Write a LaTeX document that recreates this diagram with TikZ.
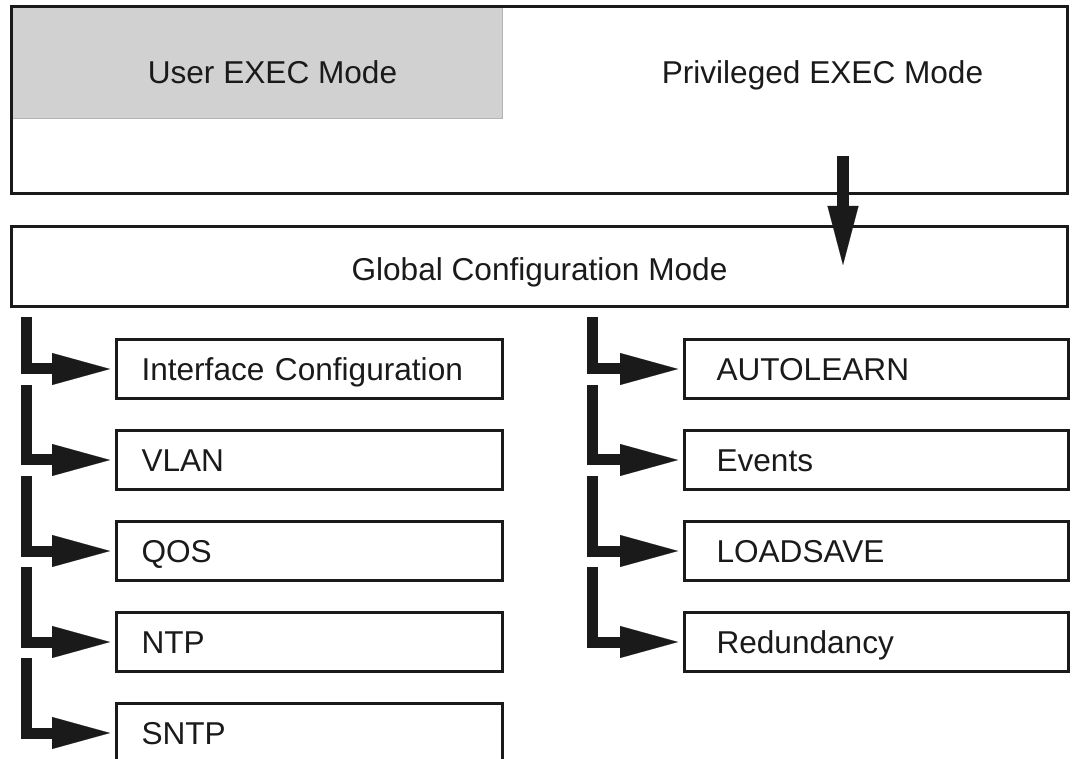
\documentclass[tikz,border=0pt]{standalone}
\usepackage{fontspec}
\setmainfont{Liberation Sans}
\usetikzlibrary{arrows.meta}
\definecolor{ink}{HTML}{1A1A1A}
\definecolor{graybox}{HTML}{D1D1D1}
\definecolor{grayedge}{HTML}{B4B4B4}
\begin{document}
\begin{tikzpicture}[x=1pt,y=-1pt,
  every node/.style={font=\fontsize{31.6}{38}\selectfont, text=ink},
  frame/.style={draw=ink, line width=2.6pt, outer sep=0pt, inner sep=0pt},
  wide/.style={frame, anchor=north west, minimum width=1056pt},
  lbox/.style={frame, anchor=north west, minimum width=386pt, minimum height=59pt,
    text width=336pt, inner xsep=25pt, align=left, text height=23pt, text depth=0pt},
  rbox/.style={frame, anchor=north west, minimum width=384pt, minimum height=59pt,
    text width=320pt, inner xsep=32pt, align=left, text height=23pt, text depth=0pt},
  branch/.style={draw=ink, line width=11pt, line join=miter,
    -{Triangle[length=58pt,width=32pt,line width=0.1pt]}, shorten >=6.5pt},
  downarrow/.style={draw=ink, line width=12pt,
    -{Triangle[length=59pt,width=31pt,line width=0.1pt]}},
  plain/.style={inner sep=0pt, anchor=base},
]
\useasboundingbox (0,0) rectangle (1072,759);

% top area
\node[draw=grayedge, line width=1.5pt, fill=graybox, outer sep=0pt, inner sep=0pt,
  anchor=north west, minimum width=491pt, minimum height=112pt] (userbox) at (11.5,6.5) {};
\node[wide, minimum height=187pt] (top) at (11.5,6.5) {};
\node[plain] (user) at (272.5,83.5) {User EXEC Mode};
\node[plain] (priv) at (822.5,83.5) {Privileged EXEC Mode};

% global configuration
\node[wide, minimum height=80pt, text height=27.6pt, text depth=0pt] (global) at (11.5,226.5) {Global Configuration Mode};

\coordinate (d0) at (843,156);
\coordinate (d1) at (843,265);
\draw[downarrow] (d0) -- (d1);

% left column
\node[lbox] (ifc)  at (116.5,339.5) {Interface Configuration};
\node[lbox] (vlan) at (116.5,430.5) {VLAN};
\node[lbox] (qos)  at (116.5,521.5) {QOS};
\node[lbox] (ntp)  at (116.5,612.5) {NTP};
\node[lbox] (sntp) at (116.5,703.5) {SNTP};

% right column
\node[rbox] (auto)  at (684.5,339.5) {AUTOLEARN};
\node[rbox] (evt)   at (684.5,430.5) {Events};
\node[rbox] (loads) at (684.5,521.5) {LOADSAVE};
\node[rbox] (red)   at (684.5,612.5) {Redundancy};

% branch starts
\coordinate (l1) at (26.5,317);
\coordinate (l2) at (26.5,385);
\coordinate (l3) at (26.5,476);
\coordinate (l4) at (26.5,567);
\coordinate (l5) at (26.5,658);
\coordinate (r1) at (592.5,317);
\coordinate (r2) at (592.5,385);
\coordinate (r3) at (592.5,476);
\coordinate (r4) at (592.5,567);

\draw[branch] (l1) |- (ifc.west);
\draw[branch] (l2) |- (vlan.west);
\draw[branch] (l3) |- (qos.west);
\draw[branch] (l4) |- (ntp.west);
\draw[branch] (l5) |- (sntp.west);
\draw[branch] (r1) |- (auto.west);
\draw[branch] (r2) |- (evt.west);
\draw[branch] (r3) |- (loads.west);
\draw[branch] (r4) |- (red.west);
\end{tikzpicture}
\end{document}
